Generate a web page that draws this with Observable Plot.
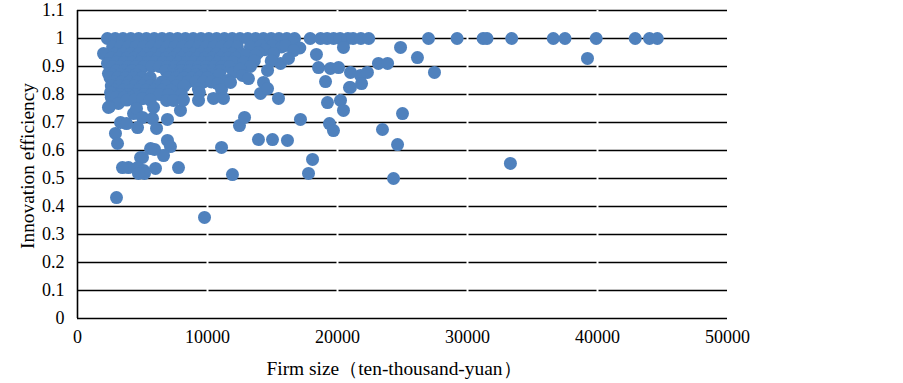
<!DOCTYPE html>
<html><head><meta charset="utf-8">
<script src="https://cdn.jsdelivr.net/npm/d3@7"></script>
<script src="https://cdn.jsdelivr.net/npm/@observablehq/plot@0.6"></script>
<style>body{margin:0;background:#fff}</style>
</head><body><div id="chart"></div>
<script>
// Tick values
const xTicks = [0, 10000, 20000, 30000, 40000, 50000];
const yTicks = [0, 0.1, 0.2, 0.3, 0.4, 0.5, 0.6, 0.7, 0.8, 0.9, 1, 1.1];
const xTitle = "Firm size（ten-thousand-yuan）";
const yTitle = "Innovation efficiency";

// Firms with efficiency = 1 (firm size values)
const efficient = [2300,2900,3500,4100,4700,5300,5900,6500,7100,7700,8300,8900,9500,10100,10700,11300,11900,12500,13100,13700,14300,14900,15500,16100,16700,
  17900,18700,19200,19700,20200,20800,21200,21800,22400,27000,29200,31200,31500,33400,36600,37500,39900,42900,44000,44600];

// Dense cluster [firm size, efficiency]
const cluster = [
  [2700,0.97],[3300,0.97],[3900,0.97],[4500,0.97],[5100,0.97],[5700,0.97],[6300,0.97],[6900,0.97],[7500,0.97],[8100,0.97],[8700,0.97],[9300,0.97],[9900,0.97],[10500,0.97],[11100,0.97],[11700,0.97],[12300,0.97],[13300,0.97],[14100,0.975],[15000,0.975],[15700,0.97],[16600,0.986],[17100,0.966],[16000,0.975],[14400,0.96],
  [2000,0.946],[2900,0.945],[3500,0.945],[4100,0.945],[4700,0.945],[5300,0.945],[5900,0.945],[6500,0.945],[7100,0.945],[7700,0.945],[8300,0.945],[8900,0.945],[9500,0.945],[10100,0.945],[10700,0.945],[11300,0.945],[11900,0.945],[12600,0.945],[13900,0.95],[15080,0.946],[16620,0.957],[18380,0.943],
  [2600,0.93],[3200,0.93],[3800,0.93],[4400,0.93],[5000,0.93],[5600,0.93],[6200,0.93],[6800,0.93],[7400,0.93],[8000,0.93],[8600,0.93],[9200,0.93],[9800,0.93],[10400,0.93],[11000,0.93],[11600,0.93],[12200,0.93],[13000,0.94],[13700,0.94],
  [2310,0.911],[3000,0.915],[3600,0.915],[4200,0.915],[4800,0.915],[5400,0.915],[6000,0.915],[6600,0.915],[7200,0.915],[7800,0.915],[8400,0.915],[9000,0.915],[9600,0.915],[10200,0.915],[10800,0.915],[11400,0.915],[12000,0.915],[12800,0.915],[13600,0.92],[15620,0.911],[16230,0.929],[14900,0.92],
  [2700,0.90],[3300,0.90],[3900,0.90],[4500,0.90],[5100,0.90],[5700,0.90],[6300,0.90],[6900,0.90],[7500,0.90],[8100,0.90],[8700,0.90],[9300,0.90],[9900,0.90],[10500,0.90],[11100,0.90],[11700,0.90],[13300,0.90],
  [2380,0.875],[3000,0.885],[3600,0.885],[4200,0.885],[4800,0.885],[6800,0.885],[7400,0.885],[8000,0.885],[8600,0.885],[9200,0.885],[9800,0.885],[10400,0.885],[11000,0.885],[12000,0.879],[14620,0.886],[12500,0.89],
  [2700,0.87],[3300,0.87],[3900,0.87],[4500,0.87],[7300,0.87],[7900,0.87],[8500,0.87],[9100,0.87],[9700,0.87],[10300,0.87],[10900,0.87],
  [2500,0.86],[3100,0.86],[3700,0.86],[4300,0.86],[5000,0.86],[5600,0.86],[7000,0.86],[7600,0.86],[8200,0.86],[8800,0.86],[9400,0.86],[10000,0.86],[11540,0.85],[12690,0.868],[13150,0.857],
  [2800,0.845],[3400,0.845],[4000,0.845],[4600,0.845],[5300,0.845],[6500,0.845],[7300,0.845],[7900,0.845],[8500,0.845],[9100,0.845],[9700,0.845],[10300,0.845],
  [2600,0.83],[3200,0.83],[3800,0.83],[4400,0.83],[5000,0.83],[5600,0.83],[6200,0.83],[6800,0.83],[7600,0.83],[8200,0.83],[9300,0.82],[10770,0.839],[11080,0.818],[11770,0.843],[14310,0.843],
  [2900,0.815],[3500,0.815],[4100,0.815],[4700,0.815],[5300,0.815],[5900,0.815],[6500,0.815],[7200,0.815],
  [2540,0.807],[3300,0.80],[3900,0.80],[4500,0.80],[5100,0.80],[5700,0.80],[6300,0.80],[7000,0.80],[8000,0.80],[9380,0.807],[14080,0.804],[14620,0.821],
  [2600,0.79],[3000,0.79],[3600,0.79],[4200,0.79],[4700,0.79],
  [3150,0.768],[3800,0.78],[4400,0.78],[5000,0.785],[5600,0.78],[6850,0.779],[7380,0.779],[9310,0.779],[10460,0.786],[11230,0.786],[15460,0.786]
];

// Scattered firms [firm size, efficiency]
const scattered = [
  [2460,0.757],[2380,0.754],[4310,0.732],[4540,0.75],[5000,0.718],[5770,0.714],[5850,0.754],[6920,0.711],[7920,0.743],[8150,0.78],
  [3310,0.70],[3770,0.696],[4620,0.682],[2920,0.661],[3080,0.625],[6080,0.679],
  [6920,0.636],[7150,0.614],[6620,0.582],[5920,0.604],[5620,0.607],[5000,0.575],[4850,0.575],
  [3920,0.539],[3460,0.539],[4620,0.539],[5080,0.529],[5150,0.518],[4690,0.518],[6000,0.536],[7770,0.539],
  [3000,0.432],[9770,0.361],
  [11080,0.611],[11920,0.514],[12460,0.689],[12850,0.718],[13920,0.639],[15000,0.639],[16150,0.636],[17150,0.711],[17770,0.518],[18080,0.568],
  [19230,0.771],[19380,0.696],[19690,0.671],[20230,0.779],[20460,0.743],[20920,0.825],
  [18540,0.896],[19460,0.893],[20080,0.896],[21000,0.879],[21770,0.868],[22300,0.879],[19080,0.846],[21000,0.825],[21850,0.839],
  [23150,0.911],[23850,0.911],[24850,0.968],[20460,0.968],[26150,0.932],[27460,0.879],
  [25000,0.732],[23460,0.675],[24620,0.621],[24310,0.5],[33300,0.554],[39230,0.929]
];

const points = [
  ...efficient.map(x => ({size: x, eff: 1})),
  ...cluster.map(([x, y]) => ({size: x, eff: y})),
  ...scattered.map(([x, y]) => ({size: x, eff: y}))
];

const font = "'Liberation Serif', 'Times New Roman', serif";
const chart = Plot.plot({
  width: 903, height: 383,
  marginLeft: 77, marginRight: 176, marginTop: 10, marginBottom: 65,
  style: {fontFamily: font, fontSize: "18px", color: "#000", background: "#fff"},
  x: {domain: [0, 50000]},
  y: {domain: [0, 1.1]},
  marks: [
    Plot.ruleY(yTicks, {stroke: "#000", strokeWidth: 1.5}),
    Plot.ruleX(xTicks.slice(1, 5), {y1: 0.03, y2: 1.1, stroke: "#fff", strokeWidth: 2}),
    Plot.ruleX([0], {stroke: "#000", strokeWidth: 1.6}),
    Plot.dot(points, {x: "size", y: "eff", r: 6.5, fill: "#4f81bd"}),
    Plot.axisX(xTicks, {tickSize: 0, tickPadding: 12, label: null, fontSize: 18, tickFormat: d => String(d)}),
    Plot.axisY(yTicks, {tickSize: 0, tickPadding: 13, label: null, fontSize: 18, tickFormat: d => String(d)})
  ]
});
document.getElementById("chart").appendChild(chart);
const svg = d3.select(chart);
svg.append("text").attr("x", 394).attr("y", 375).attr("text-anchor", "middle")
  .attr("font-family", font).attr("font-size", 19.4).attr("fill", "#000").text(xTitle);
svg.append("text").attr("transform", "translate(34,166) rotate(-90)").attr("text-anchor", "middle")
  .attr("font-family", font).attr("font-size", 19.4).attr("fill", "#000").text(yTitle);
</script>
</body></html>
